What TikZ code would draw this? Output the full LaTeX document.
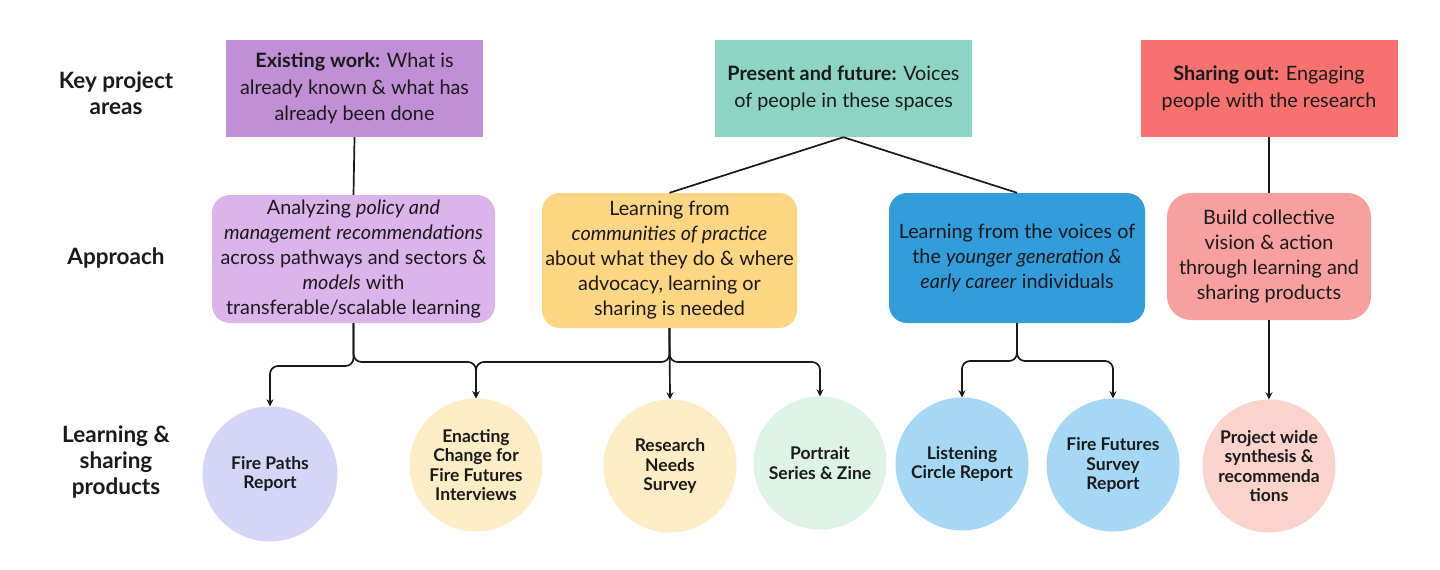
\documentclass[tikz,border=0pt]{standalone}
\usepackage{fontspec}
\setmainfont{Lato}
\usetikzlibrary{arrows.meta}
\definecolor{txt}{HTML}{1A1A1A}
\definecolor{topA}{HTML}{C18FD6}
\definecolor{topB}{HTML}{8DD4C4}
\definecolor{topC}{HTML}{F87171}
\definecolor{apA}{HTML}{DCB4EC}
\definecolor{apB}{HTML}{FDD684}
\definecolor{apC}{HTML}{339DDB}
\definecolor{apD}{HTML}{F8A0A0}
\definecolor{ciA}{HTML}{D5D5F8}
\definecolor{ciB}{HTML}{FDEDC6}
\definecolor{ciC}{HTML}{DDF3E6}
\definecolor{ciD}{HTML}{A6D8F5}
\definecolor{ciE}{HTML}{FAD3CD}
\begin{document}
\begin{tikzpicture}[x=1pt,y=-1pt,
  rowlabel/.style={align=center, text=txt, font=\fontsize{22.5}{26}\selectfont\bfseries},
  topbox/.style={rectangle, minimum width=257, minimum height=97, inner sep=0, align=center, text=txt, font=\fontsize{19.8}{26.5}\selectfont},
  appbox/.style={rectangle, rounded corners=18, inner sep=0, align=center, text=txt, font=\fontsize{19.8}{25}\selectfont},
  prod/.style={circle, minimum size=133, inner sep=0, align=center, text=txt, font=\fontsize{17.5}{19.5}\selectfont\bfseries},
  conn/.style={line width=1.7, draw=black!90, rounded corners=8},
  arr/.style={conn, -{Stealth[length=7,width=7]}}
]
\useasboundingbox[fill=white] (0,0) rectangle (1440,570);

% row labels
\node[rowlabel] (l1) at (116,93) {Key project\\areas};
\node[rowlabel] (l2) at (116,258) {Approach};
\node[rowlabel] (l3) at (116,462) {Learning \&\\sharing\\products};

% key project areas
\node[topbox, fill=topA] (t1) at (354.5,88.5) {\textbf{Existing work:} What is\\already known \& what has\\already been done};
\node[topbox, fill=topB] (t2) at (843.5,88.5) {\textbf{Present and future:} Voices\\of people in these spaces};
\node[topbox, fill=topC] (t3) at (1269,88.5) {\textbf{Sharing out:} Engaging\\people with the research};

% approaches
\node[appbox, fill=apA, minimum width=283, minimum height=128] (a1) at (353.5,259)
  {Analyzing \textit{policy and}\\\textit{management recommendations}\\across pathways and sectors \&\\\textit{models} with\\transferable/scalable learning};
\node[appbox, fill=apB, minimum width=255, minimum height=135] (a2) at (669.5,260.5)
  {Learning from\\\textit{communities of practice}\\about what they do \& where\\advocacy, learning or\\sharing is needed};
\node[appbox, fill=apC, minimum width=256, minimum height=130] (a3) at (1017,258)
  {Learning from the voices of\\the \textit{younger generation \&}\\\textit{early career} individuals};
\node[appbox, fill=apD, minimum width=204, minimum height=127, rounded corners=24] (a4) at (1269,256.5)
  {Build collective\\vision \& action\\through learning and\\sharing products};

% products
\node[prod, fill=ciA, minimum size=135] (p1) at (270,474) {Fire Paths\\Report};
\node[prod, fill=ciB] (p2) at (476,465) {Enacting\\Change for\\Fire Futures\\Interviews};
\node[prod, fill=ciB] (p3) at (670,466) {Research\\Needs\\Survey};
\node[prod, fill=ciC] (p4) at (820,463) {Portrait\\Series \& Zine};
\node[prod, fill=ciD] (p5) at (962,464) {Listening\\Circle Report};
\node[prod, fill=ciD] (p6) at (1113,465) {Fire Futures\\Survey\\Report};
\node[prod, fill=ciE] (p7) at (1269,466) {Project wide\\synthesis \&\\recommenda\\tions};

% top connectors
\draw[conn] (t1.south) -- (a1.north);
\draw[conn] (t2.south) -- (a2.north);
\draw[conn] (t2.south) -- (a3.north);
\draw[conn] (t3.south) -- (a4.north);

% bottom connectors
\draw[arr] (a1.south) |- (p1.north |- 0,366) -- (p1.north);
\draw[arr] (a1.south) |- (p2.north |- 0,362) -- (p2.north);
\draw[arr] (a2.south) |- (p2.north |- 0,362) -- (p2.north);
\draw[arr] (a2.south) -- (p3.north);
\draw[arr] (a2.south) |- (p4.north |- 0,362) -- (p4.north);
\draw[arr] (a3.south) |- (p5.north |- 0,361) -- (p5.north);
\draw[arr] (a3.south) |- (p6.north |- 0,361) -- (p6.north);
\draw[arr] (a4.south) -- (p7.north);
\end{tikzpicture}
\end{document}
